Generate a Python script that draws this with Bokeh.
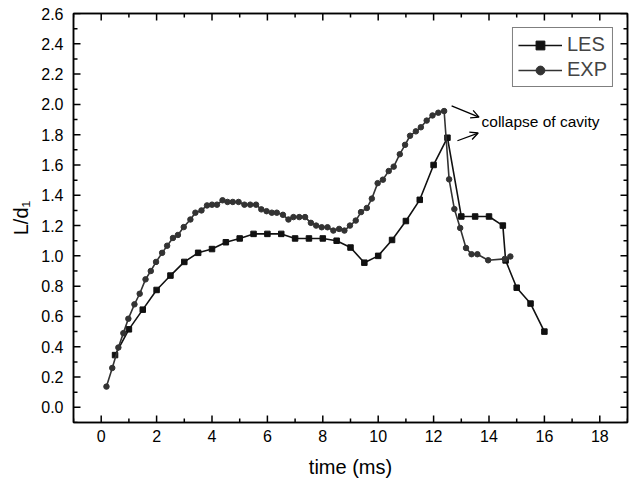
import numpy as np
from bokeh.plotting import figure
from bokeh.models import (Range1d, LinearAxis, SingleIntervalTicker, NumeralTickFormatter,
                          CustomJSTickFormatter, Legend, LegendItem, Arrow, OpenHead, Label)
from bokeh.embed import file_html
from bokeh.resources import INLINE

# ---- data ----
les_t = [0.5, 1.0, 1.5, 2.0, 2.5, 3.0, 3.5, 4.0, 4.5, 5.0, 5.5, 6.0, 6.5, 7.0, 7.5, 8.0,
         8.5, 9.0, 9.5, 10.0, 10.5, 11.0, 11.5, 12.0, 12.5, 13.0, 13.5, 14.0, 14.5, 14.6,
         15.0, 15.5, 16.0]
les_l = [0.345, 0.515, 0.645, 0.775, 0.87, 0.96, 1.02, 1.045, 1.09, 1.115, 1.145, 1.145,
         1.145, 1.115, 1.115, 1.115, 1.10, 1.055, 0.955, 1.0, 1.105, 1.23, 1.37, 1.60, 1.78,
         1.26, 1.26, 1.26, 1.20, 0.97, 0.79, 0.685, 0.50]

exp_t = [0.19, 0.40, 0.62, 0.80, 0.98, 1.20, 1.39, 1.60, 1.79, 1.98, 2.20, 2.38, 2.59, 2.77,
         2.98, 3.22, 3.40, 3.62, 3.82, 4.00, 4.18, 4.38, 4.56, 4.75, 4.96, 5.17, 5.38, 5.59,
         5.78, 5.97, 6.16, 6.34, 6.56, 6.76, 6.94, 7.15, 7.36, 7.57, 7.76, 7.96, 8.17, 8.38,
         8.59, 8.78, 8.98, 9.19, 9.38, 9.59, 9.77, 9.98, 10.17, 10.38, 10.56, 10.78, 10.97,
         11.15, 11.36, 11.54, 11.75, 11.96, 12.17, 12.38, 12.56, 12.75, 12.96, 13.17, 13.37,
         13.58, 13.97, 14.57, 14.77]
exp_l = [0.137, 0.26, 0.395, 0.49, 0.585, 0.68, 0.75, 0.845, 0.90, 0.96, 1.02, 1.067, 1.118,
         1.138, 1.19, 1.24, 1.285, 1.30, 1.333, 1.338, 1.338, 1.367, 1.356, 1.356, 1.356,
         1.338, 1.338, 1.338, 1.307, 1.295, 1.285, 1.285, 1.271, 1.24, 1.256, 1.256, 1.256,
         1.218, 1.20, 1.189, 1.189, 1.167, 1.178, 1.167, 1.20, 1.233, 1.289, 1.316, 1.378,
         1.48, 1.503, 1.56, 1.589, 1.671, 1.733, 1.793, 1.822, 1.849, 1.893, 1.927, 1.945,
         1.956, 1.505, 1.309, 1.184, 1.052, 1.011, 1.011, 0.971, 0.98, 0.996]

series_names = ["LES", "EXP"]
annotation_text = "collapse of cavity"
arrow_starts = [(12.65, 1.99), (12.86, 1.76)]
arrow_ends = [(13.64, 1.916), (13.61, 1.811)]
annotation_pos = (13.73, 1.89)

X_MIN, X_MAX, Y_MIN, Y_MAX = -1, 19, -0.1, 2.6
FONT = "Liberation Sans"

p = figure(width=630, height=483, output_backend="svg", toolbar_location=None,
           x_range=Range1d(X_MIN, X_MAX), y_range=Range1d(Y_MIN, Y_MAX),
           min_border_left=73, min_border_right=3, min_border_top=13, min_border_bottom=61)
p.background_fill_color = "white"
p.border_fill_color = "white"
p.outline_line_color = "black"
p.outline_line_width = 1.5
p.xgrid.visible = False
p.ygrid.visible = False

def style_axis(ax, ticker_int, minor_n):
    ax.ticker = SingleIntervalTicker(interval=ticker_int, num_minor_ticks=minor_n)
    ax.major_tick_in = 0
    ax.major_tick_out = 0
    ax.minor_tick_in = 0
    ax.minor_tick_out = 0
    ax.axis_line_color = "black"
    ax.axis_line_width = 1.5
    ax.major_label_text_font = FONT
    ax.major_label_text_font_size = "16px"
    ax.major_label_text_color = "black"
    ax.axis_label_text_font = FONT
    ax.axis_label_text_font_size = "20px"
    ax.axis_label_text_font_style = "normal"
    ax.axis_label_text_color = "black"

xa = p.xaxis[0]
ya = p.yaxis[0]
style_axis(xa, 2, 2)
style_axis(ya, 0.2, 2)
xa.major_label_standoff = 7
ya.major_label_standoff = 10
ya.formatter = NumeralTickFormatter(format="0.0")
xa.axis_label = "time (ms)"
ya.axis_label = "L/d\u2081"
xa.axis_label_standoff = 11
ya.axis_label_standoff = 6

blank = CustomJSTickFormatter(code="return ''")
top = LinearAxis(formatter=blank)
right = LinearAxis(formatter=blank)
style_axis(top, 2, 2)
style_axis(right, 0.2, 2)
top.major_label_standoff = 0
right.major_label_standoff = 0
p.add_layout(top, "above")
p.add_layout(right, "right")

# inward tick marks on all four sides (drawn as screen-length rays)
x_major = np.arange(0, 19, 2)
x_minor = np.arange(-1, 19.5, 2)
y_major = np.round(np.arange(0, 2.61, 0.2), 2)
y_minor = np.round(np.arange(-0.1, 2.6, 0.2), 2)
for xs, ln in ((x_major, 7), (x_minor, 4)):
    p.ray(x=xs, y=[Y_MIN] * len(xs), length=ln, length_units="screen", angle=np.pi / 2,
          line_color="black", line_width=1.5)
    p.ray(x=xs, y=[Y_MAX] * len(xs), length=ln, length_units="screen", angle=-np.pi / 2,
          line_color="black", line_width=1.5)
for ys, ln in ((y_major, 7), (y_minor, 4)):
    p.ray(x=[X_MIN] * len(ys), y=ys, length=ln, length_units="screen", angle=0,
          line_color="black", line_width=1.5)
    p.ray(x=[X_MAX] * len(ys), y=ys, length=ln, length_units="screen", angle=np.pi,
          line_color="black", line_width=1.5)

les_line = p.line(les_t, les_l, line_color="#111111", line_width=1.6)
les_pts = p.scatter(les_t, les_l, marker="square", size=5.5, fill_color="#111111",
                    line_color="#111111")
exp_line = p.line(exp_t, exp_l, line_color="#333333", line_width=1.6)
exp_pts = p.scatter(exp_t, exp_l, marker="circle", size=5.5, fill_color="#333333",
                    line_color="#333333")

for (xs, ys), (xe, ye) in zip(arrow_starts, arrow_ends):
    p.add_layout(Arrow(end=OpenHead(size=8, line_width=1.3, line_color="black"),
                       x_start=xs, y_start=ys, x_end=xe, y_end=ye,
                       line_width=1.3, line_color="black"))

p.add_layout(Label(x=annotation_pos[0], y=annotation_pos[1], text=annotation_text,
                   text_font=FONT, text_font_size="15.5px", text_baseline="middle",
                   text_color="black"))

legend = Legend(items=[LegendItem(label=series_names[0], renderers=[les_line, les_pts]),
                       LegendItem(label=series_names[1], renderers=[exp_line, exp_pts])],
                location="top_right", margin=14, padding=5, spacing=2,
                glyph_width=44, glyph_height=22, label_standoff=5,
                label_text_font=FONT, label_text_font_size="20px",
                border_line_color="black", border_line_width=1.2,
                background_fill_alpha=1.0)
p.add_layout(legend)

open("out.html", "w").write(file_html(p, INLINE))
